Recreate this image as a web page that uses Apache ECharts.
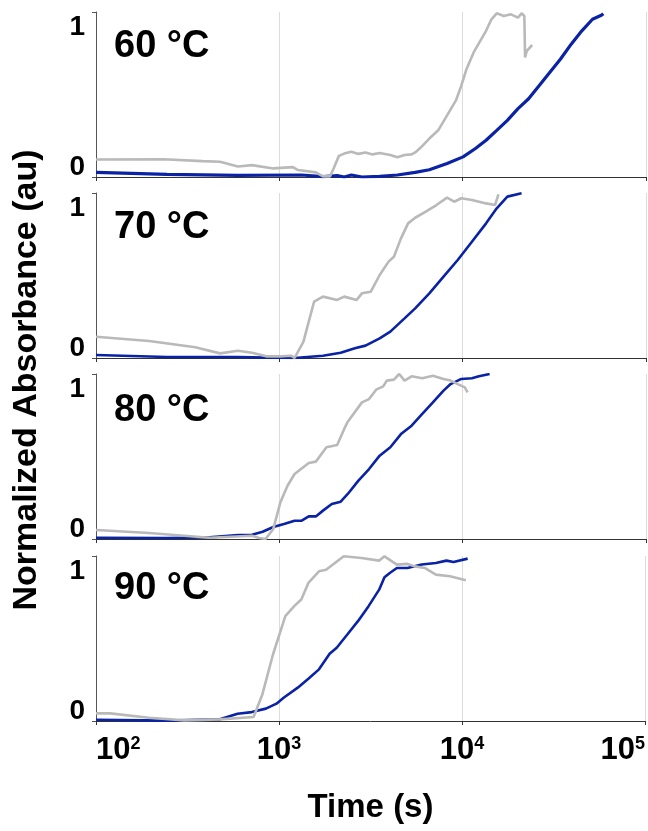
<!DOCTYPE html>
<html>
<head>
<meta charset="utf-8">
<script src="https://cdn.jsdelivr.net/npm/echarts@6/dist/echarts.min.js"></script>
<style>
  html, body { margin: 0; padding: 0; background: #fff; }
  #chart { width: 648px; height: 831px; }
</style>
</head>
<body>
<div id="chart"></div>
<script>
// Normalized absorbance traces vs. time (s), one panel per temperature.
const panelLabels = ['60 °C', '70 °C', '80 °C', '90 °C'];
const yTicks = [0, 1];

// Grey traces: [time (s), normalized absorbance]
const grey60 = [[100,0.106],[233,0.108],[380,0.096],[475,0.092],[594,0.064],[710,0.072],[927,0.052],[1185,0.06],[1266,0.042],[1582,0.028],[1730,0.004],[1891,0.004],[1977,0.052],[2113,0.128],[2259,0.142],[2470,0.153],[2700,0.14],[2951,0.148],[3226,0.137],[3526,0.145],[4031,0.133],[4407,0.12],[4818,0.133],[5266,0.137],[5508,0.149],[5888,0.177],[6580,0.233],[7355,0.283],[8222,0.373],[9190,0.464],[9830,0.554],[10500,0.655],[11480,0.755],[12270,0.811],[13420,0.886],[14350,0.956],[15340,0.992],[16760,0.976],[18330,0.986],[20040,0.966],[20950,0.992],[21700,0.976],[21890,0.725],[22390,0.765],[22890,0.755],[23930,0.80]];
const grey70 = [[100,0.129],[195,0.103],[348,0.065],[475,0.028],[594,0.044],[710,0.032],[848,0.01],[1013,0.01],[1158,0.014],[1211,0],[1354,0.099],[1447,0.22],[1547,0.341],[1730,0.372],[2067,0.352],[2259,0.372],[2641,0.352],[2823,0.392],[3155,0.402],[3526,0.503],[3942,0.584],[4216,0.614],[4607,0.725],[5037,0.816],[5508,0.85],[6292,0.887],[7194,0.927],[8222,0.972],[8987,0.947],[9830,0.968],[11230,0.958],[13420,0.937],[15000,0.927],[15680,0.992]];
const grey80 = [[100,0.055],[195,0.036],[416,0.008],[710,0.02],[776,0.006],[841,0],[927,0.061],[1013,0.222],[1108,0.323],[1211,0.394],[1447,0.461],[1582,0.469],[1808,0.556],[2067,0.57],[2259,0.667],[2362,0.711],[2823,0.828],[3086,0.848],[3373,0.905],[3687,0.925],[3855,0.96],[4216,0.966],[4507,1.0],[4818,0.96],[5266,0.986],[6020,0.974],[6880,0.99],[7864,0.97],[8597,0.96],[9397,0.939],[10270,0.919],[10640,0.889]];
const grey90 = [[100,0.046],[119.5,0.046],[195,0.02],[305,0.004],[475,0.01],[726,0.024],[811,0.161],[927,0.403],[1083,0.635],[1211,0.696],[1324,0.736],[1447,0.837],[1654,0.907],[1808,0.917],[2259,0.998],[2823,0.988],[3526,0.972],[3770,0.998],[4407,0.948],[5037,0.952],[5508,0.937],[6292,0.927],[7194,0.887],[8597,0.877],[10500,0.853]];

// Blue traces: [time (s), normalized absorbance]
const blue60 = [[100,0.028],[244,0.016],[594,0.01],[1324,0.012],[1730,0.002],[2067,0.008],[2259,0],[2470,0.012],[2823,0],[3526,0.004],[4407,0.012],[5508,0.028],[6580,0.044],[8222,0.082],[10050,0.122],[11740,0.173],[13420,0.223],[15340,0.283],[17530,0.343],[20040,0.414],[22890,0.474],[26170,0.554],[29910,0.635],[34190,0.715],[39080,0.805],[44670,0.886],[51060,0.956],[57070,0.98],[58500,0.99]];
const blue70 = [[100,0.018],[244,0.006],[594,0.006],[848,0.002],[1211,0],[1730,0.014],[2161,0.032],[2582,0.059],[2951,0.075],[3526,0.119],[4031,0.16],[4818,0.24],[5508,0.301],[6580,0.392],[7864,0.493],[9397,0.594],[11230,0.705],[13420,0.816],[15340,0.907],[17530,0.978],[20950,0.998]];
const blue80 = [[100,0.008],[244,0.006],[416,0.01],[594,0.024],[710,0.026],[811,0.044],[927,0.073],[1060,0.091],[1211,0.111],[1324,0.111],[1447,0.137],[1582,0.137],[1730,0.172],[1933,0.212],[2161,0.226],[2362,0.273],[2700,0.354],[3086,0.424],[3526,0.505],[4031,0.556],[4607,0.636],[5266,0.687],[6020,0.758],[6880,0.828],[7864,0.899],[8597,0.939],[9830,0.97],[11230,0.974],[12270,0.986],[14030,1.0]];
const blue90 = [[100,0.008],[244,0.002],[475,0.01],[594,0.044],[710,0.054],[848,0.075],[969,0.105],[1060,0.141],[1266,0.202],[1447,0.256],[1654,0.313],[1891,0.407],[2067,0.444],[2362,0.524],[2700,0.605],[3086,0.696],[3526,0.796],[3770,0.871],[4031,0.897],[4407,0.927],[5037,0.927],[6020,0.948],[7194,0.958],[8222,0.972],[8987,0.964],[10740,0.984]];

const greyTraces = [grey60, grey70, grey80, grey90];
const blueTraces = [blue60, blue70, blue80, blue90];

const FONT = '"Liberation Sans", Arial, Helvetica, sans-serif';
const GREY = '#b9b9b9';
const BLUE = '#0a22a5';
const AXIS = '#333';

const panelTops = [12, 193, 374, 556];
const panelHeight = 165;
const titleTops = [28, 209, 392, 570];

const grids = [], xAxes = [], yAxes = [], series = [], titles = [];

panelTops.forEach((top, i) => {
  const last = i === panelTops.length - 1;
  grids.push({ left: 96, right: 2, top: top, height: panelHeight, containLabel: false });
  xAxes.push({
    type: 'log', logBase: 10, gridIndex: i, min: 100, max: 100000,
    axisLine: { show: true, lineStyle: { color: AXIS, width: 1 } },
    axisTick: { show: true, length: 4, lineStyle: { color: AXIS } },
    minorTick: { show: false },
    splitLine: { show: true, showMinLine: false, lineStyle: { color: '#dcdcdc', width: 1 } },
    axisLabel: {
      show: last, margin: 14, alignMinLabel: 'left', alignMaxLabel: 'right',
      formatter: v => '{b|10}{s|' + Math.round(Math.log10(v)) + '}',
      rich: {
        b: { fontFamily: FONT, fontWeight: 'bold', fontSize: 31, color: '#000', lineHeight: 31 },
        s: { fontFamily: FONT, fontWeight: 'bold', fontSize: 18, color: '#000', lineHeight: 18, verticalAlign: 'top', padding: [0, 0, 16, 0] }
      }
    },
    name: last ? 'Time (s)' : '',
    nameLocation: 'middle', nameGap: 70,
    nameTextStyle: { fontFamily: FONT, fontWeight: 'bold', fontSize: 33, color: '#000' }
  });
  yAxes.push({
    type: 'value', gridIndex: i, min: 0, max: 1, interval: 1,
    axisLine: { show: true, lineStyle: { color: '#555', width: 1 } },
    axisTick: { show: true, length: 4, lineStyle: { color: '#555' } },
    splitLine: { show: false },
    axisLabel: {
      margin: 11,
      formatter: v => v === yTicks[0] ? '{lo|' + v + '}' : '{hi|' + v + '}',
      rich: {
        lo: { fontFamily: FONT, fontWeight: 'bold', fontSize: 28, color: '#000', padding: [0, 0, 20, 0] },
        hi: { fontFamily: FONT, fontWeight: 'bold', fontSize: 28, color: '#000', padding: [30, 0, 0, 0] }
      }
    }
  });
  titles.push({
    text: panelLabels[i], left: 114, top: titleTops[i], padding: 0,
    textStyle: { fontFamily: FONT, fontWeight: 'bold', fontSize: 38, color: '#000' }
  });
  series.push({
    name: panelLabels[i] + ' blue', type: 'line', xAxisIndex: i, yAxisIndex: i,
    data: blueTraces[i], showSymbol: false, symbol: 'none', animation: false,
    lineStyle: { color: BLUE, width: i === 0 ? 3.2 : 2.6 }
  });
  series.push({
    name: panelLabels[i] + ' grey', type: 'line', xAxisIndex: i, yAxisIndex: i,
    data: greyTraces[i], showSymbol: false, symbol: 'none', animation: false,
    lineStyle: { color: GREY, width: 2.6 }
  });
});

const chart = echarts.init(document.getElementById('chart'), null, { renderer: 'canvas' });
chart.setOption({
  animation: false,
  backgroundColor: '#fff',
  title: titles,
  grid: grids,
  xAxis: xAxes,
  yAxis: yAxes,
  series: series,
  graphic: [{
    type: 'text',
    x: 27, y: 380, rotation: Math.PI / 2,
    style: {
      text: 'Normalized Absorbance (au)', fill: '#000',
      font: 'bold 34px ' + FONT, textAlign: 'center', textVerticalAlign: 'middle'
    }
  }]
});
</script>
</body>
</html>
